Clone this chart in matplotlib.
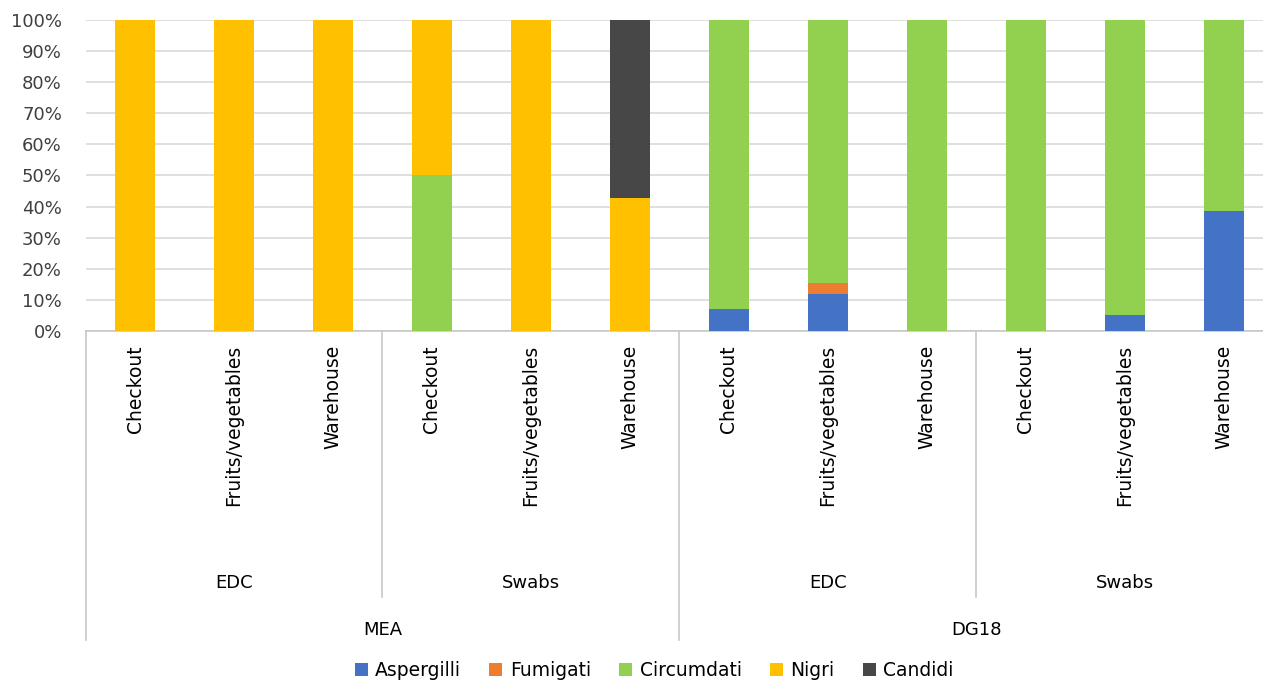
import matplotlib.pyplot as plt
import numpy as np
from matplotlib.ticker import PercentFormatter

plt.rcParams["font.family"] = ["DejaVu Sans"]

# data (percent of isolates per section)
sites = ["Checkout", "Fruits/vegetables", "Warehouse"] * 4
methods = ["EDC", "Swabs", "EDC", "Swabs"]
media = ["MEA", "DG18"]

aspergilli = [0, 0, 0, 0, 0, 0, 7.1, 12.0, 0, 0, 5.1, 38.5]
fumigati = [0, 0, 0, 0, 0, 0, 0, 3.4, 0, 0, 0, 0]
circumdati = [0, 0, 0, 50.0, 0, 0, 92.9, 84.6, 100, 100, 94.9, 61.5]
nigri = [100, 100, 100, 50.0, 100, 42.9, 0, 0, 0, 0, 0, 0]
candidi = [0, 0, 0, 0, 0, 57.1, 0, 0, 0, 0, 0, 0]

series = [
    ("Aspergilli", aspergilli, "#4472C4"),
    ("Fumigati", fumigati, "#ED7D31"),
    ("Circumdati", circumdati, "#92D050"),
    ("Nigri", nigri, "#FFC000"),
    ("Candidi", candidi, "#474747"),
]

fig = plt.figure(figsize=(12.63, 6.89), dpi=100)
# plot area runs slightly past the right edge, like the original
ax = fig.add_axes([0.0677, 0.5196, 0.9406, 0.4514])

x = np.arange(len(sites))
bottom = np.zeros(len(sites))
for name, vals, col in series:
    vals = np.array(vals)
    ax.bar(x, vals, 0.405, bottom=bottom, color=col, label=name, zorder=3)
    bottom += vals

ax.set_xlim(-0.5, len(sites) - 0.5)
ax.set_ylim(0, 100)
ax.set_yticks(np.arange(0, 101, 10))
ax.yaxis.set_major_formatter(PercentFormatter(decimals=0))
ax.tick_params(axis="y", length=0, labelsize=13, colors="#404040", pad=17)
ax.set_xticks([])
ax.grid(axis="y", color="#d9d9d9", linewidth=1.2, zorder=0)
for s in ["top", "right", "left"]:
    ax.spines[s].set_visible(False)
ax.spines["bottom"].set_color("#c8c8c8")
ax.spines["bottom"].set_linewidth(1.2)

trans = ax.get_xaxis_transform()
line_kw = dict(color="#c8c8c8", linewidth=1.2, clip_on=False, transform=trans)

# category labels
for xi, s in zip(x, sites):
    ax.text(xi, -0.045, s, rotation=90, ha="center", va="top", transform=trans,
            fontsize=13.5, color="#000000")

# method labels and separators
for i, m in enumerate(methods):
    ax.text(3 * i + 1, -0.81, m, ha="center", va="center", transform=trans,
            fontsize=13, color="#000000")
for b in [2.5, 8.5]:
    ax.plot([b, b], [0, -0.855], **line_kw)

# medium labels and separators
for i, m in enumerate(media):
    ax.text(6 * i + 2.5, -0.962, m, ha="center", va="center", transform=trans,
            fontsize=13, color="#000000")
for b in [-0.5, 5.5, 11.5]:
    ax.plot([b, b], [0, -0.995], **line_kw)

fig.legend(loc="lower center", bbox_to_anchor=(0.518, -0.012), ncol=5,
           frameon=False, fontsize=13.5, handlelength=0.7, handleheight=0.7,
           handletextpad=0.4, columnspacing=1.5)

fig.savefig("out.png", dpi=100)
